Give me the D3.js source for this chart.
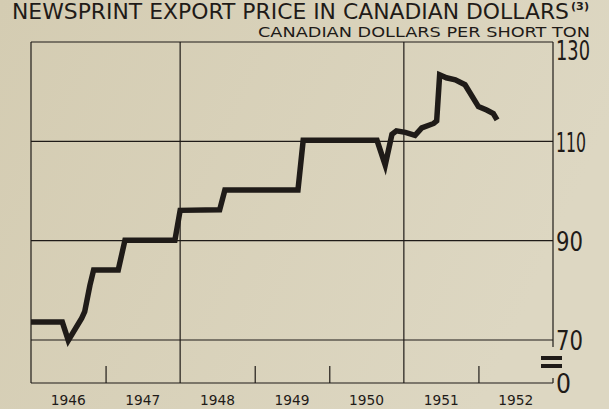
<!DOCTYPE html>
<html>
<head>
<meta charset="utf-8">
<script src="https://cdn.jsdelivr.net/npm/d3@7/dist/d3.min.js"></script>
<style>
  html, body { margin: 0; padding: 0; background: #d7d0b7; }
  svg { display: block; }
</style>
</head>
<body>
<svg id="chart" width="609" height="409"></svg>
<script>
// Newsprint export price, Canadian dollars per short ton (decimal year, price)
const years = [1946.00, 1946.42, 1946.50, 1946.68, 1946.72, 1946.79, 1946.84, 1947.17, 1947.26,
  1947.93, 1948.00, 1948.53, 1948.60, 1949.58, 1949.65, 1950.64, 1950.75, 1950.84, 1950.90,
  1951.02, 1951.15, 1951.24, 1951.40, 1951.44, 1951.48, 1951.57, 1951.69, 1951.82, 1952.00,
  1952.11, 1952.20, 1952.25];
const prices = [73.6, 73.6, 69.4, 74.4, 75.7, 81.0, 84.1, 84.1, 90.1,
  90.1, 96.1, 96.2, 100.2, 100.2, 110.2, 110.2, 105.2, 111.4, 112.1,
  111.8, 111.2, 112.7, 113.6, 114.1, 123.4, 122.8, 122.4, 121.4, 117.0,
  116.3, 115.6, 114.3];
const yearLabels = [1946, 1947, 1948, 1949, 1950, 1951, 1952];
const priceTicks = [0, 70, 90, 110, 130];
const gridPrices = [70, 90, 110];
const gridYears = [1948, 1951];
const shortTickYears = [1947, 1949, 1950, 1952];

const svg = d3.select("#chart");
const ink = "#1f1b18";

// paper background
const defs = svg.append("defs");
const grad = defs.append("linearGradient").attr("id", "paper")
  .attr("x1", "0").attr("y1", "0").attr("x2", "1").attr("y2", "0.3");
grad.append("stop").attr("offset", "0").attr("stop-color", "#d4ccb2");
grad.append("stop").attr("offset", "1").attr("stop-color", "#ddd7c2");
svg.append("rect").attr("width", 609).attr("height", 409).attr("fill", "url(#paper)");

const plotLeft = 31, plotRight = 553, plotTop = 42, plotBottom = 383;

const x = d3.scaleLinear().domain([1946, 1953]).range([plotLeft, plotRight]);
// broken value axis: 0 sits just below the 70 line
const y = d3.scaleLinear().domain([0, 70, 130]).range([plotBottom, 340, plotTop]);

// horizontal grid
svg.append("g").selectAll("line").data(gridPrices).join("line")
  .attr("x1", plotLeft).attr("x2", plotRight)
  .attr("y1", d => y(d)).attr("y2", d => y(d))
  .attr("stroke", ink).attr("stroke-width", 1.2);

// full-height year dividers
svg.append("g").selectAll("line").data(gridYears).join("line")
  .attr("x1", d => x(d)).attr("x2", d => x(d))
  .attr("y1", plotTop).attr("y2", plotBottom)
  .attr("stroke", ink).attr("stroke-width", 1.2);

// frame: top, left, and right with a break
const frame = svg.append("g").attr("stroke", ink).attr("stroke-width", 1.2).attr("fill", "none");
frame.append("line").attr("x1", plotLeft).attr("x2", plotRight).attr("y1", plotTop).attr("y2", plotTop);
frame.append("line").attr("x1", plotLeft).attr("x2", plotLeft).attr("y1", plotTop).attr("y2", plotBottom);
frame.append("line").attr("x1", plotRight).attr("x2", plotRight).attr("y1", plotTop).attr("y2", 347);
frame.append("line").attr("x1", plotRight).attr("x2", plotRight).attr("y1", 378).attr("y2", plotBottom);

// bottom axis with short year ticks
const xAxis = d3.axisBottom(x).tickValues(shortTickYears).tickSize(-17).tickFormat("");
const gx = svg.append("g").attr("transform", `translate(0,${plotBottom})`).call(xAxis);
gx.select(".domain").attr("stroke", ink).attr("stroke-width", 1.2).attr("d", `M${plotLeft},0H${plotRight}`);
gx.selectAll(".tick line").attr("stroke", ink).attr("stroke-width", 1.2);

// year labels centred within each year
svg.append("g").selectAll("text").data(yearLabels).join("text")
  .attr("x", d => x(d + 0.5)).attr("y", 405)
  .attr("text-anchor", "middle")
  .attr("font-family", "DejaVu Sans, sans-serif").attr("font-size", 14)
  .attr("textLength", 35).attr("lengthAdjust", "spacingAndGlyphs")
  .attr("fill", ink).text(d => d);

// value labels on the right, tall and narrow
const labelWidth = { 0: 15, 70: 27, 90: 27, 110: 30, 130: 34 };
const yAxis = d3.axisRight(y).tickValues(priceTicks).tickSize(0).tickPadding(3).tickFormat(d3.format("d"));
const gy = svg.append("g").attr("transform", `translate(${plotRight},0)`).call(yAxis);
gy.select(".domain").remove();
gy.selectAll(".tick text")
  .attr("font-family", "DejaVu Sans Condensed, Liberation Sans Narrow, sans-serif")
  .attr("font-size", 27).attr("fill", ink)
  .attr("textLength", d => labelWidth[d]).attr("lengthAdjust", "spacingAndGlyphs")
  .attr("dy", d => d === 130 ? "0.66em" : "0.36em");

// axis break marks
svg.append("g").selectAll("rect").data([358, 366]).join("rect")
  .attr("x", 541).attr("y", d => d - 2).attr("width", 21).attr("height", 4).attr("fill", ink);

// price line
const line = d3.line().x((d, i) => x(years[i])).y(d => y(d));
svg.append("path").datum(prices)
  .attr("d", line)
  .attr("fill", "none").attr("stroke", ink).attr("stroke-width", 5.5)
  .attr("stroke-linejoin", "miter").attr("stroke-miterlimit", 6);

// titles
svg.append("text").attr("x", 12).attr("y", 19)
  .attr("font-family", "DejaVu Sans, sans-serif").attr("font-size", 20.5)
  .attr("textLength", 557).attr("lengthAdjust", "spacingAndGlyphs")
  .attr("fill", ink).text("NEWSPRINT EXPORT PRICE IN CANADIAN DOLLARS");
svg.append("text").attr("x", 571).attr("y", 10)
  .attr("font-family", "DejaVu Sans, sans-serif").attr("font-size", 10).attr("font-weight", "bold")
  .attr("textLength", 18).attr("lengthAdjust", "spacingAndGlyphs")
  .attr("fill", ink).text("(3)");
svg.append("text").attr("x", 590).attr("y", 36.5).attr("text-anchor", "end")
  .attr("font-family", "DejaVu Sans, sans-serif").attr("font-size", 13.5)
  .attr("textLength", 332).attr("lengthAdjust", "spacingAndGlyphs")
  .attr("fill", ink).text("CANADIAN DOLLARS PER SHORT TON");
</script>
</body>
</html>
